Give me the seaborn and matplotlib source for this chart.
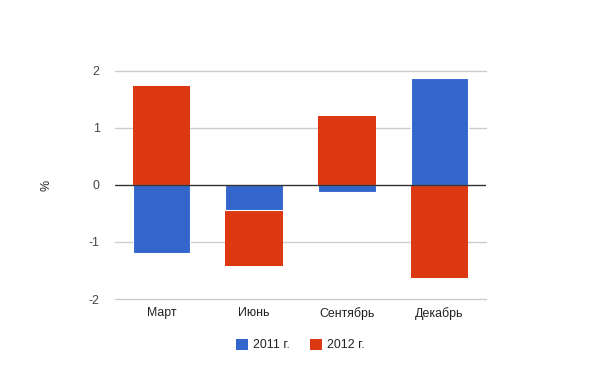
import matplotlib
matplotlib.use("Agg")
import matplotlib.pyplot as plt
import seaborn as sns
import pandas as pd
from matplotlib.patches import Patch

categories = ["Март", "Июнь", "Сентябрь", "Декабрь"]
series_2011 = [-1.19, -0.44, -0.12, 1.88]
series_2012 = [1.74, -0.98, 1.21, -1.64]
series_names = ["2011 г.", "2012 г."]
y_ticks = [-2, -1, 0, 1, 2]

blue = "#3366CC"
red = "#DC3912"

sns.set_theme(style="white")
plt.rcParams["font.family"] = ["Liberation Sans", "DejaVu Sans"]

# stacked: 2012 sits on top of 2011 when on the same side of zero
outer_2012 = [b + r if (b >= 0) == (r >= 0) else r for b, r in zip(series_2011, series_2012)]

df = pd.DataFrame({"cat": categories, "s2011": series_2011, "s2012": outer_2012})

fs = 8.9
fig = plt.figure(figsize=(6, 3.71), dpi=100)
ax = fig.add_axes([115 / 600, 1 - 299 / 371, 371 / 600, 228 / 371])

sns.barplot(data=df, x="cat", y="s2012", color=red, saturation=1, width=0.618,
            ax=ax, edgecolor="none", zorder=2)
sns.barplot(data=df, x="cat", y="s2011", color=blue, saturation=1, width=0.618,
            ax=ax, edgecolor="white", linewidth=0.8, zorder=3)

ax.set_ylim(-2, 2)
ax.set_xlim(-0.5, 3.5)
ax.set_yticks(y_ticks)
ax.set_yticklabels([str(t) for t in y_ticks])
ax.grid(False)
for t in y_ticks:
    if t != 0:
        ax.axhline(t, color="#cccccc", linewidth=1, zorder=0, clip_on=False)
ax.axhline(0, color="#333333", linewidth=1, zorder=4)
for s in ax.spines.values():
    s.set_visible(False)
ax.tick_params(axis="both", length=0, labelsize=fs)
ax.tick_params(axis="y", pad=11, labelcolor="#444444")
ax.tick_params(axis="x", pad=6, labelcolor="#222222")
ax.set_xlabel("")
ax.set_ylabel("%", fontsize=fs, color="#222222", labelpad=26)

handles = [Patch(facecolor=blue, edgecolor="none"), Patch(facecolor=red, edgecolor="none")]
fig.legend(handles, series_names, loc="center", bbox_to_anchor=(0.5, 1 - 345 / 371),
           ncol=2, frameon=False, fontsize=fs, handlelength=1.0, handleheight=1.0,
           handletextpad=0.4, columnspacing=1.6, labelcolor="#222222")

fig.savefig("out.png", dpi=100)
